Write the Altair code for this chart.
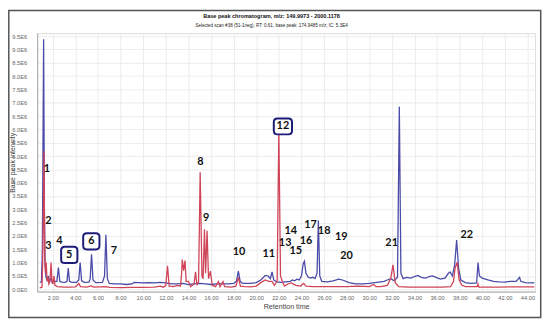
import altair as alt
import pandas as pd

# ---------------- data (intensities in units of 1E6) ----------------
blue_t = [0.85, 1.00, 1.08, 1.19, 1.26, 1.32, 1.40, 1.50, 1.60, 1.70, 1.85, 1.95, 2.10, 2.36, 2.50, 2.62,
          2.80, 3.10, 3.26, 3.37, 3.48, 3.70, 4.10, 4.30, 4.42, 4.55, 4.80, 5.20, 5.31, 5.43, 5.56,
          5.80, 6.40, 6.58, 6.70, 6.83, 7.00, 7.50, 8.00, 8.50, 9.00, 9.20, 10.0, 10.5, 11.0, 11.5,
          12.0, 12.5, 13.0, 13.5, 14.0, 14.5, 15.0, 15.5, 16.0, 16.5, 17.0, 17.5, 18.0, 18.25, 18.42,
          18.58, 18.8, 19.5, 20.0, 20.4, 20.8, 21.05, 21.25, 21.4, 21.55, 21.8, 22.2, 22.6, 23.0,
          23.2, 23.4, 23.6, 23.8, 24.0, 24.15, 24.26, 24.4, 24.6, 24.8, 25.0, 25.2, 25.38, 25.5,
          25.62, 25.8, 26.3, 26.8, 27.3, 27.7, 28.2, 28.8, 29.5, 30.0, 30.5, 31.0, 31.3, 31.6, 31.9,
          32.2, 32.5, 32.66, 32.8, 33.0, 33.3, 33.7, 34.0, 34.3, 34.6, 35.0, 35.3, 35.6, 35.9, 36.3,
          36.7, 37.0, 37.15, 37.35, 37.55, 37.73, 37.9, 38.1, 38.5, 39.0, 39.5, 39.62, 39.75, 40.0,
          40.5, 41.0, 41.5, 42.0, 42.5, 43.0, 43.2, 43.3, 43.4, 43.8, 44.3, 44.6]
blue_v = [0.26, 0.28, 1.5, 9.38, 3.0, 0.9, 0.45, 0.35, 0.5, 0.3, 0.42, 0.25, 0.3, 0.3, 0.82, 0.3,
          0.27, 0.26, 0.3, 0.80, 0.3, 0.26, 0.26, 0.35, 1.0, 0.32, 0.26, 0.27, 0.4, 1.31, 0.35,
          0.25, 0.26, 0.5, 2.05, 0.4, 0.22, 0.2, 0.2, 0.18, 0.2, 0.26, 0.24, 0.25, 0.24, 0.26,
          0.24, 0.2, 0.2, 0.22, 0.18, 0.2, 0.22, 0.2, 0.18, 0.2, 0.2, 0.2, 0.22, 0.3, 0.68,
          0.3, 0.22, 0.22, 0.25, 0.35, 0.52, 0.5, 0.4, 0.65, 0.35, 0.28, 0.26, 0.28, 0.3,
          0.35, 0.32, 0.38, 0.35, 0.5, 0.95, 1.05, 0.6, 0.45, 0.42, 0.45, 0.4, 0.6, 2.58,
          0.5, 0.3, 0.28, 0.32, 0.38, 0.34, 0.25, 0.2, 0.2, 0.22, 0.25, 0.28, 0.3, 0.35, 0.4,
          0.32, 0.45, 6.85, 0.6, 0.4, 0.45, 0.42, 0.48, 0.52, 0.45, 0.42, 0.48, 0.5, 0.45, 0.38,
          0.42, 0.6, 0.65, 0.5, 0.9, 1.85, 0.8, 0.35, 0.25, 0.22, 0.24, 1.0, 0.5, 0.42,
          0.35, 0.3, 0.28, 0.27, 0.3, 0.3, 0.4, 0.45, 0.3, 0.25, 0.24, 0.24]

red_t = [0.85, 1.05, 1.13, 1.22, 1.29, 1.35, 1.42, 1.50, 1.58, 1.65, 1.75, 1.85, 1.93, 2.02, 2.10, 2.20,
         2.40, 3.0, 3.5, 4.0, 4.15, 4.3, 4.45, 5.0, 5.4, 5.6, 6.7, 7.0, 8.0, 9.0, 10.0, 11.0, 11.5,
         11.8, 12.0, 12.15, 12.3, 12.7, 13.0, 13.3, 13.4, 13.46, 13.58, 13.7, 13.8, 14.0, 14.2, 14.5,
         14.63, 14.75, 14.9, 15.04, 15.2, 15.3, 15.42, 15.52, 15.65, 15.78, 15.95, 16.1, 16.4, 16.66,
         16.8, 17.06, 17.2, 17.8, 18.2, 18.42, 18.6, 19.0, 19.5, 20.0, 20.4, 20.8, 21.1, 21.4, 21.6,
         21.85, 22.0, 22.15, 22.3, 22.5, 22.8, 23.1, 23.5, 23.9, 24.2, 24.4, 25.0, 26.0, 27.0, 28.0,
         29.0, 30.0, 30.4, 30.6, 31.0, 31.6, 31.9, 32.1, 32.3, 32.6, 33.5, 34.5, 35.5, 36.5, 37.2,
         37.45, 37.6, 37.78, 37.95, 38.2, 38.5, 39.55, 39.62, 39.7, 40.5, 41.5, 42.5, 43.5, 44.6]
red_v = [0.05, 0.08, 1.5, 5.18, 1.2, 0.6, 1.0, 0.3, 0.45, 0.2, 0.3, 1.0, 0.3, 0.2, 0.5, 0.15,
         0.1, 0.08, 0.08, 0.09, 0.15, 0.22, 0.1, 0.08, 0.13, 0.08, 0.1, 0.07, 0.06, 0.07, 0.07, 0.08, 0.12,
         0.08, 0.15, 0.88, 0.12, 0.1, 0.15, 0.12, 0.6, 1.12, 0.7, 1.08, 0.3, 0.3, 0.1, 0.2,
         0.66, 0.15, 0.3, 4.39, 0.5, 0.4, 2.25, 0.6, 2.2, 0.4, 0.68, 0.15, 0.1, 0.29,
         0.1, 0.29, 0.1, 0.08, 0.12, 0.45, 0.12, 0.1, 0.09, 0.12, 0.25, 0.35, 0.3, 0.3, 0.15,
         0.3, 5.95, 0.5, 0.3, 0.12, 0.2, 0.24, 0.15, 0.12, 0.22, 0.12, 0.1, 0.1, 0.1, 0.1,
         0.12, 0.1, 0.18, 0.1, 0.1, 0.15, 0.4, 0.92, 0.25, 0.1, 0.08, 0.08, 0.08, 0.08, 0.1,
         0.3, 0.8, 1.02, 0.35, 0.15, 0.1, 0.1, 0.2, 0.08, 0.08, 0.08, 0.09, 0.09, 0.09]

label_text = ["1", "2", "3", "4", "5", "6", "7", "8", "9", "10", "11", "12", "13", "14", "15",
              "16", "17", "18", "19", "20", "21", "22"]
label_t = [1.48, 1.62, 1.62, 2.59, 3.46, 5.41, 7.40, 15.07, 15.56, 18.48, 21.11, 22.36, 22.56,
           23.06, 23.50, 24.40, 24.81, 26.01, 27.52, 27.98, 31.98, 38.63]
label_v = [4.53, 2.55, 1.63, 1.81, 1.29, 1.80, 1.45, 4.79, 2.66, 1.39, 1.32, 6.11, 1.73,
           2.19, 1.42, 1.82, 2.41, 2.17, 1.98, 1.26, 1.73, 2.04]
boxed_labels = ["5", "6", "12"]

x_ticks = list(range(2, 45, 2))
y_ticks = [i * 0.5 for i in range(20)]

title_text = "Base peak chromatogram, m/z: 149.9973 - 2000.1178"
subtitle_text = "Selected scan #38 (51-1neg), RT: 0.61, base peak: 174.9485 m/z, IC: 5.3E4"

# ---------------- tables ----------------
E6 = 1e6
blue_df = pd.DataFrame({"t": blue_t, "v": [v * E6 for v in blue_v]})
red_df = pd.DataFrame({"t": red_t, "v": [v * E6 for v in red_v]})
lab_df = pd.DataFrame({"t": label_t, "v": [v * E6 for v in label_v], "lab": label_text})
lab_df["boxed"] = lab_df["lab"].isin(boxed_labels)

W, H = 503.5, 261.3
x_scale = alt.Scale(domain=[0.62, 44.67], nice=False, zero=False)
y_scale = alt.Scale(domain=[-0.085e6, 9.61e6], nice=False, zero=False)

x_axis = alt.Axis(values=x_ticks, format=".2f", title="Retention time", grid=True,
                  gridColor="#ececec", gridWidth=1, ticks=False, labelPadding=3,
                  labelOverlap=False, labelFlush=False,
                  labelFontSize=5.8, labelColor="#666666", labelFont="Liberation Sans",
                  titleFont="Liberation Sans", titleFontSize=7.2, titleFontWeight="normal",
                  titleColor="#444444", titlePadding=2, domainColor="#aaaaaa")
y_axis = alt.Axis(values=[v * E6 for v in y_ticks],
                  labelExpr="replace(format(datum.value, '.1e'), 'e+', 'E')",
                  title="Base peak intensity", grid=True, gridColor="#ececec", gridWidth=1,
                  ticks=False, labelPadding=10.5, labelOverlap=False, labelFlush=False,
                  labelFontSize=5.8, labelColor="#666666",
                  labelFont="Liberation Sans", titleFont="Liberation Sans", titleFontSize=7.0,
                  titleFontWeight="normal", titleColor="#444444",
                  titleX=-25.3, titleY=H / 2, titleAngle=270, titleBaseline="middle",
                  titleAlign="center", domainColor="#aaaaaa")

X = alt.X("t:Q", scale=x_scale, axis=x_axis)
Y = alt.Y("v:Q", scale=y_scale, axis=y_axis)

blue = alt.Chart(blue_df).mark_line(color="#4a4aa8", strokeWidth=1.3, clip=True).encode(
    x=X, y=Y, order="t:Q")
red = alt.Chart(red_df).mark_line(color="#d04458", strokeWidth=1.3, clip=True).encode(
    x=X, y=Y, order="t:Q")


def rounded(a, b=1.0, r=0.45):
    return (f"M {-a + r},{-b} L {a - r},{-b} Q {a},{-b} {a},{-b + r} L {a},{b - r} "
            f"Q {a},{b} {a - r},{b} L {-a + r},{b} Q {-a},{b} {-a},{b - r} "
            f"L {-a},{-b + r} Q {-a},{-b} {-a + r},{-b} Z")


box_small = alt.Chart(lab_df).transform_filter(
    "datum.boxed && datum.lab != '12'").mark_point(
    shape=rounded(1.0), size=270, filled=True, fill="white", stroke="#1d1d78",
    strokeWidth=2, opacity=1).encode(x=X, y=Y)
box_big = alt.Chart(lab_df).transform_filter("datum.lab == '12'").mark_point(
    shape=rounded(1.15), size=256, filled=True, fill="white", stroke="#1d1d78",
    strokeWidth=2, opacity=1).encode(x=X, y=Y)

labels = alt.Chart(lab_df).mark_text(font="Lato", fontWeight="bold", fontSize=11,
                                     color="#111111", align="center",
                                     baseline="middle").encode(x=X, y=Y, text="lab:N")

one = pd.DataFrame({"k": [0]})
title = alt.Chart(one).mark_text(text=title_text, font="Liberation Sans", fontWeight="bold",
                                 fontSize=5.6, color="#111111", align="center",
                                 baseline="middle").encode(
    x=alt.value(237), y=alt.value(-17.7))
subtitle = alt.Chart(one).mark_text(text=subtitle_text, font="Liberation Sans",
                                    fontSize=4.6, color="#222222", align="center",
                                    baseline="middle").encode(
    x=alt.value(237), y=alt.value(-7.7))
frame = alt.Chart(one).mark_rect(fillOpacity=0, stroke="#555555", strokeWidth=1.5).encode(
    x=alt.value(-28.7), x2=alt.value(W + 5.7), y=alt.value(-22.9), y2=alt.value(H + 26.2))

chart = alt.layer(blue, red, box_small, box_big, labels, title, subtitle, frame).properties(
    width=W, height=H,
    autosize=alt.AutoSizeParams(type="none"),
    padding={"left": 29.5, "top": 23.7, "right": 7, "bottom": 28},
).configure_view(stroke="#bdbdbd", strokeWidth=1).configure_axis(
    labelOverlap=False, labelFlush=False
).configure(background="white")

chart.save("out.html", embed_options={"renderer": "svg", "actions": False})
